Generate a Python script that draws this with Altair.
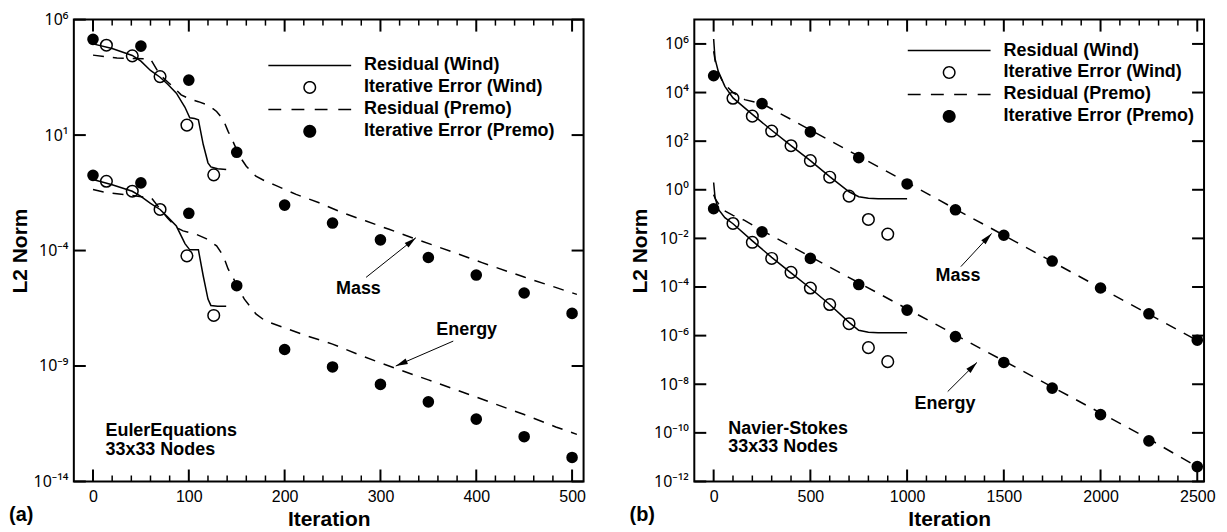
import math
import altair as alt
import pandas as pd

FONT = "Liberation Sans"
SERIES = ["Residual (Wind)", "Iterative Error (Wind)",
          "Residual (Premo)", "Iterative Error (Premo)"]

# ---------------- panel (a): Euler equations ----------------
a_wres_iter = [0, 20, 41, 50, 60, 70, 78, 87, 96, 101, 106, 110, 115, 120, 123, 130, 139]
a_wres_mass = [8.9e4, 5.6e4, 2.8e4, 1.6e4, 6.3e3, 3.2e3, 1.6e3, 6.5e2, 1.6e2, 56, 52, 46,
               4.0, 0.63, 0.42, 0.35, 0.32]
a_wres_energy = [0.12, 0.071, 0.037, 0.022, 0.011, 6.0e-3, 2.8e-3, 1.15e-3, 2.0e-4, 1.07e-4,
                 1.07e-4, 1.07e-4, 8.1e-6, 7.9e-7, 4.2e-7, 3.9e-7, 3.9e-7]
a_pres_mass_iter = [0, 25, 60, 70, 78, 85, 92, 100, 110, 120, 129, 136, 141, 146, 153, 160,
                    170, 180, 190, 212, 236, 260, 285, 309, 333, 357, 382, 406, 450, 505]
a_pres_mass = [2.9e4, 2.2e4, 1.95e4, 4.0e3, 2.0e3, 1.07e3, 5.5e2, 3.8e2, 2.8e2, 2.0e2,
               1.05e2, 46, 14.5, 5.4, 1.2, 0.45, 0.166, 0.1, 0.068, 0.027,
               0.0117, 4.4e-3, 1.9e-3, 8.3e-4, 3.6e-4, 1.6e-4, 6.9e-5, 3.0e-5, 7.1e-6, 1.26e-6]
a_pres_energy_iter = [0, 11, 25, 61, 70, 78, 87, 94, 108, 118, 129, 136, 141, 146, 153, 158,
                      170, 180, 198, 222, 250, 280, 316, 350, 400, 450, 483, 505]
a_pres_energy = [0.044, 0.034, 0.029, 0.019, 6.3e-3, 2.5e-3, 1.0e-3, 7.1e-4, 5.0e-4, 3.3e-4,
                 1.6e-4, 5.9e-5, 1.6e-5, 6.9e-6, 1.8e-6, 7.9e-7, 1.8e-7, 8.9e-8, 4.8e-8, 2.1e-8,
                 8.9e-9, 2.8e-9, 7.8e-10, 2.5e-10, 4.5e-11, 7.9e-12, 2.3e-12, 1.1e-12]
a_werr_iter = [14, 41, 70, 98, 126]
a_werr_mass = [7.8e4, 2.7e4, 3.4e3, 27, 0.19]
a_werr_energy = [0.1, 0.037, 6.0e-3, 5.9e-5, 1.55e-7]
a_perr_iter = [0, 50, 100, 150, 200, 250, 300, 350, 400, 450, 500]
a_perr_mass = [1.4e5, 7.1e4, 2.4e3, 1.8, 9.3e-3, 1.55e-3, 2.9e-4, 5.0e-5, 8.7e-6, 1.45e-6, 1.9e-7]
a_perr_energy = [0.18, 0.085, 4.1e-3, 3.0e-6, 5.2e-9, 9.1e-10, 1.6e-10, 2.8e-11, 5.0e-12,
                 8.7e-13, 1.1e-13]

a_x_major = [0, 100, 200, 300, 400, 500]
a_x_minor = [v for v in range(20, 500, 20) if v % 100]
a_y_major = [1e-14, 1e-9, 1e-4, 1e1, 1e6]

a_notes = ["Mass", "Energy"]
a_notes_iter = [277, 390]
a_notes_val = [2.1e-6, 3.5e-8]
a_arrow_from_iter = [285, 376]
a_arrow_from_val = [6.9e-6, 1.2e-8]
a_arrow_to_iter = [337, 316]
a_arrow_to_val = [3.6e-4, 1.0e-9]
a_arrow_angle = [51, 247]
a_case = ["EulerEquations", "33x33 Nodes"]
a_case_iter = [13, 13]
a_case_val = [1.6e-12, 2.4e-13]

# ---------------- panel (b): Navier-Stokes ----------------
b_wres_iter = [0, 7, 24, 58, 100, 200, 300, 400, 500, 600, 700, 750, 800, 850, 1000]
b_wres_mass = [1.6e6, 2.5e5, 7.4e4, 1.8e4, 6.0e3, 1.26e3, 2.8e2, 65, 15.8, 3.5, 0.83, 0.52,
               0.45, 0.43, 0.43]
b_wres_energy = [2.0, 0.5, 0.16, 0.071, 0.04, 7.9e-3, 1.66e-3, 3.8e-4, 8.9e-5, 1.9e-5, 3.5e-6,
                 1.66e-6, 1.38e-6, 1.32e-6, 1.32e-6]
b_pres_iter = [0, 10, 25, 50, 100, 160, 250, 500, 750, 1000, 1250, 1500, 1750, 2000, 2250, 2500]
b_pres_mass = [5.0e5, 1.6e5, 6.3e4, 2.5e4, 1.0e4, 5.1e3, 3.5e3, 2.9e2, 24, 2.0, 0.16, 0.0135,
               1.1e-3, 9.1e-5, 7.6e-6, 6.3e-7]
b_pres_energy = [0.63, 0.4, 0.27, 0.145, 0.089, 0.055, 0.021, 1.78e-3, 1.5e-4, 1.26e-5,
                 1.07e-6, 9.1e-8, 7.8e-9, 6.6e-10, 5.6e-11, 4.0e-12]
b_werr_iter = [100, 200, 300, 400, 500, 600, 700, 800, 900]
b_werr_mass = [5.8e3, 1.07e3, 2.6e2, 65, 15.8, 3.3, 0.55, 0.06, 0.015]
b_werr_energy = [0.041, 6.9e-3, 1.5e-3, 4.0e-4, 9.1e-5, 1.9e-5, 3.1e-6, 3.2e-7, 8.5e-8]
b_perr_iter = [0, 250, 500, 750, 1000, 1250, 1500, 1750, 2000, 2250, 2500]
b_perr_mass = [4.9e4, 3.5e3, 2.4e2, 21, 1.74, 0.15, 0.0135, 1.17e-3, 9.1e-5, 7.9e-6, 6.5e-7]
b_perr_energy = [0.166, 0.0186, 1.5e-3, 1.26e-4, 1.12e-5, 9.1e-7, 7.9e-8, 6.9e-9, 5.6e-10,
                 4.7e-11, 4.1e-12]

b_x_major = [0, 500, 1000, 1500, 2000, 2500]
b_x_minor = [v for v in range(100, 2500, 100) if v % 500]
b_y_major = [1e-12, 1e-10, 1e-8, 1e-6, 1e-4, 1e-2, 1e0, 1e2, 1e4, 1e6]

b_notes = ["Mass", "Energy"]
b_notes_iter = [1263, 1196]
b_notes_val = [2.8e-4, 1.5e-9]
b_arrow_from_iter = [1278, 1210]
b_arrow_from_val = [6.9e-4, 5.0e-9]
b_arrow_to_iter = [1437, 1361]
b_arrow_to_val = [0.016, 7.9e-8]
b_arrow_angle = [43, 45]
b_case = ["Navier-Stokes", "33x33 Nodes"]
b_case_iter = [76, 76]
b_case_val = [1.5e-10, 2.5e-11]

# ---------------- helpers ----------------
SUP = str.maketrans("0123456789-", "⁰¹²³⁴⁵⁶⁷⁸⁹⁻")


def pow_label_expr(vals):
    s = "''"
    for v in reversed(vals):
        e = round(math.log10(v))
        s = f"(round(log(datum.value)/LN10) == {e} ? '10{str(e).translate(SUP)}' : {s})"
    return s


def frame(parts):
    rows = []
    for var, iters, vals in parts:
        rows += [{"iter": i, "val": v, "var": var} for i, v in zip(iters, vals)]
    return pd.DataFrame(rows)


# legend symbol paths, all filled shapes (1 unit = 10 px for symbolSize 400)
_hh = 0.075


def _rect(x0, x1):
    return f"M{x0},{-_hh}L{x1},{-_hh}L{x1},{_hh}L{x0},{_hh}Z"


def _poly(r, rev=False):
    ks = range(32) if not rev else range(32, 0, -1)
    pts = [f"{r*math.cos(2*math.pi*k/32):.4f},{r*math.sin(2*math.pi*k/32):.4f}" for k in ks]
    return "M" + "L".join(pts) + "Z"


LINE_PATH = _rect(-4.15, 4.15)
DASH_PATH = _rect(-4.15, -2.86) + _rect(-1.83, -0.54) + _rect(0.5, 1.78) + _rect(2.86, 4.15)
RING_PATH = _poly(0.65) + _poly(0.5, rev=True)
DISK_PATH = _poly(0.65)
ARROW_PATH = "M0,0L0.25,1L-0.25,1Z"

W, H = 511, 463
MAJOR, MINOR = 12, 6


def tick_frame(xdom, ydom, xvals, yvals, length):
    """Inward tick segments (both ends go through the scales)."""
    ppd = H / math.log10(ydom[1] / ydom[0])        # pixels per decade
    fy = 10 ** (length / ppd)
    dx = length * (xdom[1] - xdom[0]) / W
    rows = []
    for t in xvals:
        rows.append({"x1": t, "x2": t, "y1": ydom[0], "y2": ydom[0] * fy})
        rows.append({"x1": t, "x2": t, "y1": ydom[1], "y2": ydom[1] / fy})
    for t in yvals:
        rows.append({"x1": xdom[0], "x2": xdom[0] + dx, "y1": t, "y2": t})
        rows.append({"x1": xdom[1], "x2": xdom[1] - dx, "y1": t, "y2": t})
    return pd.DataFrame(rows)


def panel(xdom, ydom, xmaj, xmin, ymaj, wres, pres, werr, perr,
          notes, arrows, case, legend_xy, tag):
    xs = alt.Scale(domain=xdom, nice=False, zero=False)
    ys = alt.Scale(type="log", domain=ydom, nice=False)

    def X(f):
        return alt.X(f, scale=xs)

    def Y(f):
        return alt.Y(f, scale=ys)

    x_main = alt.Axis(orient="bottom", values=xmaj, title="Iteration", format="d",
                      ticks=False, labelPadding=7, labelFlush=False, labelOverlap=False,
                      domain=False, grid=False, titlePadding=4)
    y_main = alt.Axis(orient="left", values=ymaj, title="L2 Norm",
                      labelExpr=pow_label_expr(ymaj), labelFont="Noto Sans",
                      ticks=False, labelPadding=6, labelOverlap=False, labelFlush=False,
                      domain=False, grid=False, titlePadding=3)

    solid = alt.Chart(wres).mark_line(color="black", strokeWidth=1.5).encode(
        x=alt.X("iter:Q", scale=xs, axis=x_main),
        y=alt.Y("val:Q", scale=ys, axis=y_main),
        detail="var:N")

    major_ticks = alt.Chart(tick_frame(xdom, ydom, xmaj, ymaj, MAJOR)).mark_rule(
        color="black", strokeWidth=2).encode(
        x=X("x1:Q"), y=Y("y1:Q"), x2="x2:Q", y2="y2:Q")
    minor_ticks = alt.Chart(tick_frame(xdom, ydom, xmin, [], MINOR)).mark_rule(
        color="black", strokeWidth=1.5).encode(
        x=X("x1:Q"), y=Y("y1:Q"), x2="x2:Q", y2="y2:Q")

    dashed = alt.Chart(pres).mark_line(color="black", strokeWidth=1.5,
                                       strokeDash=[11, 9]).encode(
        x=X("iter:Q"), y=Y("val:Q"), detail="var:N")
    open_pts = alt.Chart(werr).mark_point(shape="circle", filled=False, color="black",
                                          size=135, strokeWidth=1.5, opacity=1).encode(
        x=X("iter:Q"), y=Y("val:Q"))
    full_pts = alt.Chart(perr).mark_point(shape="circle", filled=True, color="black",
                                          size=135, opacity=1).encode(
        x=X("iter:Q"), y=Y("val:Q"))

    arrow_df = pd.DataFrame(arrows)
    shafts = alt.Chart(arrow_df).mark_rule(color="black", strokeWidth=1).encode(
        x=X("x1:Q"), y=Y("y1:Q"), x2="x2:Q", y2="y2:Q")
    heads = alt.Chart(arrow_df).mark_point(shape=ARROW_PATH, filled=True, color="black",
                                           size=576, opacity=1).encode(
        x=X("x2:Q"), y=Y("y2:Q"), angle=alt.Angle("ang:Q", scale=None))

    note_txt = alt.Chart(pd.DataFrame(notes)).mark_text(
        font=FONT, fontSize=18, fontWeight="bold", color="black",
        align="center", baseline="middle").encode(
        x=X("iter:Q"), y=Y("val:Q"), text="label:N")
    case_txt = alt.Chart(pd.DataFrame(case)).mark_text(
        font=FONT, fontSize=18, fontWeight="bold", color="black",
        align="left", baseline="middle").encode(
        x=X("iter:Q"), y=Y("val:Q"), text="label:N")

    leg = alt.Legend(title=None, orient="none", legendX=legend_xy[0], legendY=legend_xy[1],
                     direction="vertical", symbolSize=400, symbolStrokeWidth=0,
                     symbolFillColor="black", rowPadding=3, padding=0,
                     labelOffset=44.5, symbolOffset=0, labelLimit=400,
                     labelFont=FONT, labelFontSize=18, labelFontWeight="bold",
                     labelColor="black")
    legend_df = pd.DataFrame({"series": SERIES, "iter": [0] * 4, "val": [1.0] * 4})
    legend_layer = alt.Chart(legend_df).transform_filter("false").mark_point(
        filled=True, color="black", opacity=1).encode(
        x=X("iter:Q"), y=Y("val:Q"),
        shape=alt.Shape("series:N", legend=leg,
                        scale=alt.Scale(domain=SERIES,
                                        range=[LINE_PATH, RING_PATH, DASH_PATH, DISK_PATH])))

    return alt.layer(solid, major_ticks, minor_ticks, dashed, open_pts, full_pts, shafts,
                     heads, note_txt, case_txt, legend_layer).properties(
        width=W, height=H,
        title=alt.TitleParams(tag, orient="bottom", anchor="start", frame="bounds",
                              offset=-24, font=FONT, fontSize=20, fontWeight="bold",
                              color="black"))


def arrows_of(fx, fy, tx, ty, ang):
    return {"x1": fx, "y1": fy, "x2": tx, "y2": ty, "ang": ang}


pa = panel([-20, 512], [1e-14, 1e6], a_x_major, a_x_minor, a_y_major,
           frame([("Mass", a_wres_iter, a_wres_mass), ("Energy", a_wres_iter, a_wres_energy)]),
           frame([("Mass", a_pres_mass_iter, a_pres_mass),
                  ("Energy", a_pres_energy_iter, a_pres_energy)]),
           frame([("Mass", a_werr_iter, a_werr_mass), ("Energy", a_werr_iter, a_werr_energy)]),
           frame([("Mass", a_perr_iter, a_perr_mass), ("Energy", a_perr_iter, a_perr_energy)]),
           {"label": a_notes, "iter": a_notes_iter, "val": a_notes_val},
           arrows_of(a_arrow_from_iter, a_arrow_from_val, a_arrow_to_iter, a_arrow_to_val,
                     a_arrow_angle),
           {"label": a_case, "iter": a_case_iter, "val": a_case_val},
           (226.5, 36), "(a)")

pb = panel([-100, 2535], [1e-12, 1e7], b_x_major, b_x_minor, b_y_major,
           frame([("Mass", b_wres_iter, b_wres_mass), ("Energy", b_wres_iter, b_wres_energy)]),
           frame([("Mass", b_pres_iter, b_pres_mass), ("Energy", b_pres_iter, b_pres_energy)]),
           frame([("Mass", b_werr_iter, b_werr_mass), ("Energy", b_werr_iter, b_werr_energy)]),
           frame([("Mass", b_perr_iter, b_perr_mass), ("Energy", b_perr_iter, b_perr_energy)]),
           {"label": b_notes, "iter": b_notes_iter, "val": b_notes_val},
           arrows_of(b_arrow_from_iter, b_arrow_from_val, b_arrow_to_iter, b_arrow_to_val,
                     b_arrow_angle),
           {"label": b_case, "iter": b_case_iter, "val": b_case_val},
           (245.5, 21), "(b)")

chart = alt.hconcat(pa, pb, spacing=111, bounds="flush").resolve_scale(
    x="independent", y="independent", shape="independent"
).resolve_legend(shape="independent").properties(
    padding={"left": 0, "top": 2, "right": 2, "bottom": 0}
).configure_view(stroke="black", strokeWidth=2).configure_axis(
    labelFont=FONT, labelFontSize=16, labelColor="black",
    titleFont=FONT, titleFontSize=21, titleFontWeight="bold", titleColor="black")

chart.save("out.html", embed_options={"renderer": "svg", "actions": False})
